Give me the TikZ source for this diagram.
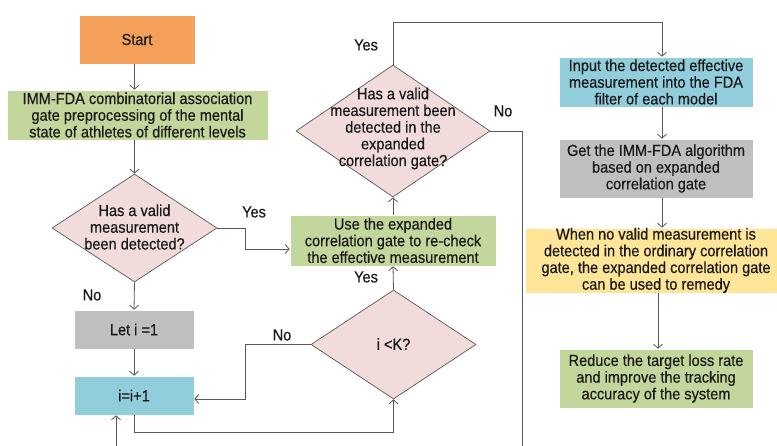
\documentclass[tikz,border=0pt]{standalone}
\usepackage{fontspec}
\setmainfont[FakeStretch=0.91,FakeBold=0.4]{Liberation Sans}
\usetikzlibrary{shapes.geometric,arrows.meta,calc}
\definecolor{corange}{HTML}{F5A05A}
\definecolor{cgreen}{HTML}{C3D69B}
\definecolor{cpink}{HTML}{F2DCDB}
\definecolor{cgray}{HTML}{BFBFBF}
\definecolor{cblue}{HTML}{92CDDC}
\definecolor{cyellow}{HTML}{FFE597}
\definecolor{cline}{HTML}{595959}
\begin{document}
\begin{tikzpicture}[x=1pt,y=-1pt,
  txt/.style={font=\fontsize{16}{16.7}\selectfont, text=black!90, align=center},
  box/.style={txt, draw=white, line width=0.6pt, inner sep=0pt},
  dia/.style={diamond, draw=cline, line width=0.7pt, fill=cpink, inner sep=0pt},
  lbl/.style={txt},
  conn/.style={draw=cline, line width=0.8pt, -{Straight Barb[length=4pt,width=9pt]}},
  plain/.style={draw=cline, line width=0.8pt}]
\useasboundingbox (0,0) rectangle (777,446);
\clip (0,0) rectangle (777,446);
\fill[white] (0,0) rectangle (777,446);

% boxes
\node[box, fill=corange, minimum width=116pt, minimum height=49pt] (start) at (137,39.5) {Start};
\node[box, fill=cgreen, minimum width=261pt, minimum height=50pt] (imm) at (137.5,115) {IMM-FDA combinatorial association\\gate preprocessing of the mental\\state of athletes of different levels};
\node[dia, minimum width=165pt, minimum height=108pt] (d1) at (134.5,228) {};
\node[txt] at (134.5,227) {Has a valid\\measurement\\been detected?};
\node[box, fill=cgray, minimum width=120pt, minimum height=39pt] (leti) at (134,329.5) {Let i =1};
\node[box, fill=cblue, minimum width=120pt, minimum height=39pt] (inc) at (134,395.5) {i=i+1};
\node[dia, minimum width=165pt, minimum height=109pt] (d3) at (393.5,344.5) {};
\node[txt] at (393.5,344) {i <K?};
\node[box, fill=cgreen, minimum width=206pt, minimum height=51pt] (g1) at (393,240.5) {Use the expanded\\correlation gate to re-check\\the effective measurement};
\node[dia, minimum width=194pt, minimum height=132pt] (d2) at (393,131) {};
\node[txt] at (393,128.5) {Has a valid\\measurement been\\detected in the\\expanded\\correlation gate?};
\node[box, fill=cblue, minimum width=194pt, minimum height=50pt] (blue) at (656,82) {Input the detected effective\\measurement into the FDA\\filter of each model};
\node[box, fill=cgray, minimum width=194pt, minimum height=59pt] (gray) at (656,168.5) {Get the IMM-FDA algorithm\\based on expanded\\correlation gate};
\node[box, fill=cyellow, minimum width=262pt, minimum height=59pt] (yel) at (656,260.5) {When no valid measurement is\\detected in the ordinary correlation\\gate, the expanded correlation gate\\can be used to remedy};
\node[box, fill=cgreen, minimum width=194pt, minimum height=59pt] (g2) at (656,378.5) {Reduce the target loss rate\\and improve the tracking\\accuracy of the system};

% coordinates
\coordinate (loopin) at (116,446);
\coordinate (noend) at (522,446);
\coordinate (s1) at (start.south -| d1.north);
\coordinate (s2) at (imm.north -| d1.north);
\coordinate (s3) at (imm.south -| d1.north);

% connectors
\draw[conn] (s1) -- (s2);
\draw[conn] (s3) -- (d1.north);
\draw[conn] (d1.east) -- ++(28,0) |- ($(g1.west)+(0,8.5)$);
\draw[conn] (d1.south) -- (leti.north);
\draw[conn] (leti.south) -- (inc.north);
\draw[conn] (inc.south) -- ++(0,17) -| (d3.south);
\draw[conn] (d3.west) -| ($(inc.east)+(51,3.5)$) -- ($(inc.east)+(0,3.5)$);
\draw[conn] (d3.north) -- (g1.south);
\draw[conn] (g1.north) -- (d2.south);
\draw[conn] (d2.north) -- ++(0,-42) -| ($(blue.north)+(6,0)$);
\draw[plain] (d2.east) -| (noend);
\draw[conn] (loopin) -- (loopin |- inc.south);
\draw[conn] ($(blue.south)+(6,0)$) -- ($(gray.north)+(6,0)$);
\draw[conn] ($(gray.south)+(6,0)$) -- ($(yel.north)+(6,0)$);
\draw[conn] ($(yel.south)+(2,0)$) -- ($(g2.north)+(2,0)$);

% labels
\node[lbl] at (254,212) {Yes};
\node[lbl] at (92,295) {No};
\node[lbl] at (282,335) {No};
\node[lbl] at (366,277) {Yes};
\node[lbl] at (366,45) {Yes};
\node[lbl] at (503,111) {No};
\end{tikzpicture}
\end{document}
